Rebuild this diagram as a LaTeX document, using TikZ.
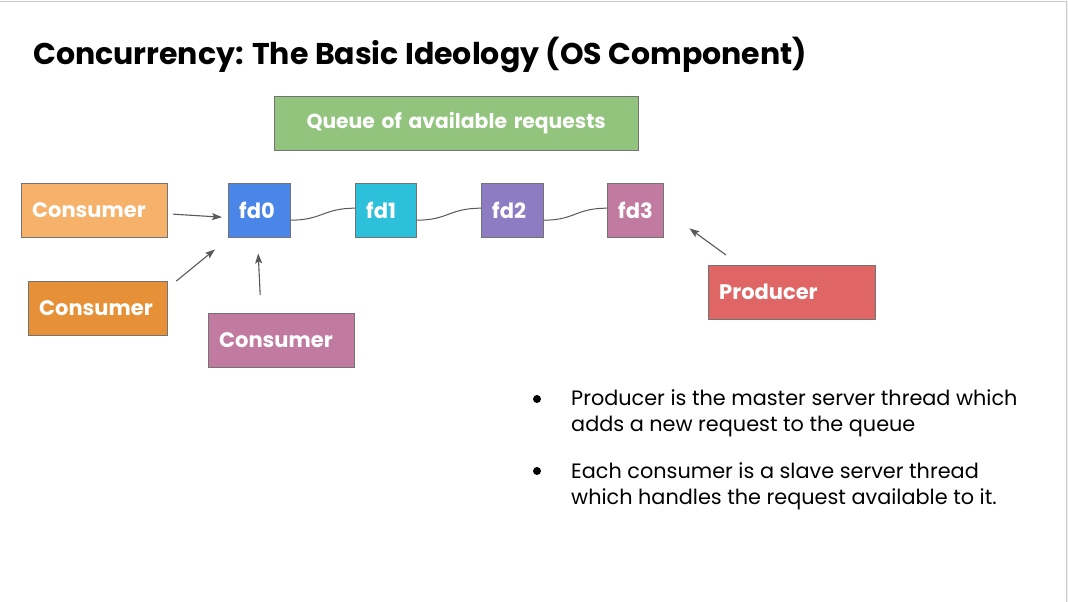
\documentclass[tikz,border=0pt]{standalone}
\usepackage{fontspec}
\setmainfont{Poppins}
\usetikzlibrary{arrows.meta,calc}

\definecolor{queuegreen}{HTML}{93C47D}
\definecolor{consumerA}{HTML}{F6B26B}
\definecolor{consumerB}{HTML}{E69138}
\definecolor{consumerC}{HTML}{C27BA0}
\definecolor{fdblue}{HTML}{4A86E8}
\definecolor{fdcyan}{HTML}{2CC0DB}
\definecolor{fdpurple}{HTML}{8E7CC3}
\definecolor{fdpink}{HTML}{C27BA0}
\definecolor{producerred}{HTML}{E06666}
\definecolor{arrowgray}{HTML}{595959}

\begin{document}
\begin{tikzpicture}[x=1pt, y=-1pt,
  tag/.style 2 args={draw=black!55, fill=#1, text=white, anchor=north west,
    font=\bfseries\fontsize{21}{24}\selectfont, inner xsep=11pt, inner ysep=0pt,
    text width=#2, minimum height=54pt, align=left},
  arr/.style={draw=arrowgray, line width=1.1pt, -{Stealth[length=10pt, width=7pt, inset=2pt]}},
  link/.style={draw=arrowgray, line width=1pt},
  point/.style={anchor=north west, align=left, inner sep=0pt, font=\fontsize{20.8}{26}\selectfont},
  dot/.style={circle, fill=black, inner sep=0pt, minimum size=8pt}]

  % page
  \useasboundingbox (0,0) rectangle (1068,602);
  \fill[white] (0,0) rectangle (1066,602);
  \fill[black!6] (1066,0) rectangle (1068,602);
  \draw[black!20] (0,1) -- (1066,1) -- (1066,602);

  \node[anchor=base west, inner sep=0pt, font=\bfseries\fontsize{30}{36}\selectfont] (title) at (33,65)
    {Concurrency: The Basic Ideology (OS Component)};

  \node[tag={queuegreen}{342pt}, align=center, font=\bfseries\fontsize{20.3}{24}\selectfont] (queue) at (274,96)
    {Queue of available requests};

  % the queue
  \node[tag={fdblue}{40pt}]   (fd0) at (228,183) {fd0};
  \node[tag={fdcyan}{39pt}]   (fd1) at (355,183) {fd1};
  \node[tag={fdpurple}{40pt}] (fd2) at (481,183) {fd2};
  \node[tag={fdpink}{34pt}]   (fd3) at (607,183) {fd3};

  \foreach \a/\b in {fd0/fd1, fd1/fd2, fd2/fd3}
    \draw[link] ($(\a.east)+(0,10)$) .. controls +(32,0) and +(-32,0) .. ($(\b.west)+(0,-2)$);

  % threads
  \node[tag={consumerA}{124pt}]   (c1)   at (21,183)  {Consumer};
  \node[tag={consumerB}{117pt}]   (c2)   at (28,281)  {Consumer};
  \node[tag={consumerC}{124pt}]   (c3)   at (208,313) {Consumer};
  \node[tag={producerred}{145pt}] (prod) at (708,265) {Producer};

  \draw[arr] ($(c1.east)+(6,4)$) -- ($(fd0.west)+(-6,7)$);
  \draw[arr] ($(c2.north east)+(9,0)$) -- ($(fd0.south west)+(-13,12)$);
  \draw[arr] ($(c3.north)+(-21,-18)$) -- ($(fd0.south)+(-1,16)$);
  \draw[arr] ($(prod.north west)+(18,-10)$) -- ($(fd3.south east)+(26,-9)$);

  % notes
  \node[dot] (dot1) at (537,399) {};
  \node[dot] (dot2) at (537,471) {};
  \node[point] (note1) at (571,389)
    {Producer is the master server thread which\\adds a new request to the queue};
  \node[point] (note2) at (571,462)
    {Each consumer is a slave server thread\\which handles the request available to it.};

\end{tikzpicture}
\end{document}
